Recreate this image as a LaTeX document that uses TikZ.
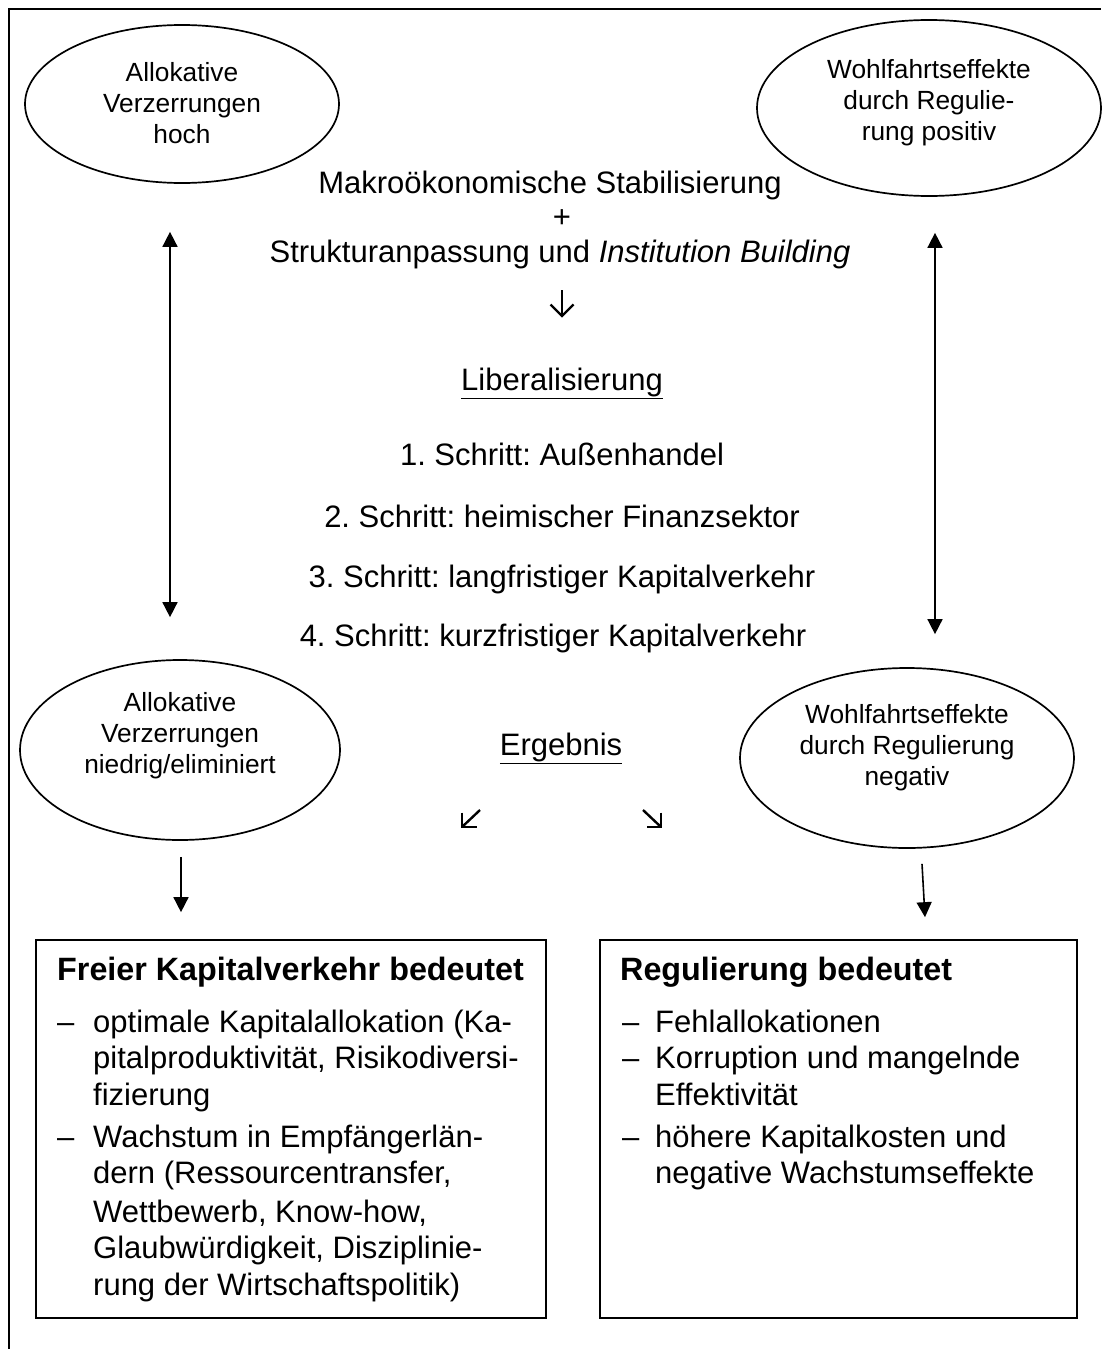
\documentclass[tikz,border=0pt]{standalone}
\usepackage{fontspec}
\setmainfont{Liberation Sans}
\usetikzlibrary{shapes.geometric,arrows.meta}
\begin{document}
\frenchspacing
\begin{tikzpicture}[x=1pt,y=-1pt,
  ell/.style={ellipse,draw,line width=1.7pt,inner sep=0pt},
  etext/.style={align=center,font=\fontsize{26.3}{31}\selectfont},
  ctext/.style={anchor=base,font=\fontsize{31}{36}\selectfont},
  btext/.style={anchor=base west,font=\fontsize{31}{36}\selectfont,inner sep=0pt},
  bhead/.style={anchor=base west,font=\bfseries\fontsize{32.3}{36}\selectfont,inner sep=0pt},
  boxstyle/.style={draw,line width=1.7pt,inner sep=0pt},
  glyph/.style={line width=2.4pt,line cap=butt,line join=miter},
  arr/.style={-{Triangle[length=15pt,width=15pt]},line width=1.6pt},
  dbl/.style={{Triangle[length=15pt,width=15pt]}-{Triangle[length=15pt,width=15pt]},line width=1.6pt}]

\useasboundingbox (0,0) rectangle (1101,1349);
\fill[white] (0,0) rectangle (1101,1349);
\draw[line width=2.6pt] (9,1349) -- (9,9) -- (1101,9);

% ellipses
\node[ell,minimum width=314pt,minimum height=158pt] (tl) at (182,104) {};
\node[ell,minimum width=344pt,minimum height=176pt] (tr) at (929,108) {};
\node[ell,minimum width=320pt,minimum height=180pt] (bl) at (180,750) {};
\node[ell,minimum width=334pt,minimum height=180pt] (br) at (907,758) {};

\node[etext] (tlt) at ([yshift=1pt]tl.center) {Allokative\\Verzerrungen\\hoch};
\node[etext] (trt) at ([yshift=5pt]tr.center) {Wohlfahrtseffekte\\durch Regulie-\\rung positiv};
\node[etext] (blt) at ([yshift=14pt]bl.center) {Allokative\\Verzerrungen\\niedrig/eliminiert};
\node[etext] (brt) at ([yshift=10pt]br.center) {Wohlfahrtseffekte\\durch Regulierung\\negativ};

% center texts
\node[ctext] (makro) at (550,193) {Makroökonomische Stabilisierung};
\node[ctext] (plus) at (562,227) {+};
\node[ctext] (struk) at (560,262) {Strukturanpassung und \textit{Institution Building}};
\node[ctext] (lib) at (562,390) {\underline{Liberalisierung}};
\node[ctext] (s1) at (562,465) {1. Schritt: Außenhandel};
\node[ctext] (s2) at (562,527) {2. Schritt: heimischer Finanzsektor};
\node[ctext] (s3) at (562,587) {3. Schritt: langfristiger Kapitalverkehr};
\node[ctext] (s4) at (553,646) {4. Schritt: kurzfristiger Kapitalverkehr};
\node[ctext] (erg) at (561,755) {\underline{Ergebnis}};

% arrow symbols
\coordinate (dn) at (562,316);
\draw[glyph] ([yshift=26pt]dn) -- (dn);
\draw[glyph] ([xshift=-11.5pt,yshift=11.5pt]dn) -- (dn) -- ([xshift=11.5pt,yshift=11.5pt]dn);
\coordinate (sw) at (462,827);
\draw[glyph] (sw) -- ([xshift=18pt,yshift=17pt]sw);
\draw[glyph] ([yshift=14.5pt]sw) -- (sw) -- ([xshift=14.5pt]sw);
\coordinate (se) at (661,827);
\draw[glyph] (se) -- ([xshift=-18pt,yshift=17pt]se);
\draw[glyph] ([yshift=14.5pt]se) -- (se) -- ([xshift=-14.5pt]se);

% connectors
\draw[dbl] ([xshift=-12pt,yshift=-48pt]tl.south) -- ([xshift=-10pt,yshift=42pt]bl.north);
\draw[dbl] ([xshift=6pt,yshift=-36pt]tr.south) -- ([xshift=28pt,yshift=33pt]br.north);

% boxes
\node[boxstyle,minimum width=510pt,minimum height=378pt] (lbox) at (291,1129) {};
\node[boxstyle,minimum width=477pt,minimum height=378pt] (rbox) at (838.5,1129) {};

\draw[arr] ([xshift=1pt,yshift=-16pt]bl.south) -- ([xshift=-110pt,yshift=27pt]lbox.north);
\draw[arr] ([xshift=15pt,yshift=-15pt]br.south) -- ([xshift=86.5pt,yshift=22pt]rbox.north);

% left box text
\node[bhead] (lh) at (57,980) {Freier Kapitalverkehr bedeutet};
\node[btext] (ld1) at (57,1032) {–};
\node[btext] (l1) at (93,1032) {optimale Kapitalallokation (Ka-};
\node[btext] (l2) at (93,1068) {pitalproduktivität, Risikodiversi-};
\node[btext] (l3) at (93,1105) {fizierung};
\node[btext] (ld2) at (57,1147) {–};
\node[btext] (l4) at (93,1147) {Wachstum in Empfängerlän-};
\node[btext] (l5) at (93,1183) {dern (Ressourcentransfer,};
\node[btext] (l6) at (93,1222) {Wettbewerb, Know-how,};
\node[btext] (l7) at (93,1258) {Glaubwürdigkeit, Disziplinie-};
\node[btext] (l8) at (93,1295) {rung der Wirtschaftspolitik)};

% right box text
\node[bhead] (rh) at (620,980) {Regulierung bedeutet};
\node[btext] (rd1) at (622,1032) {–};
\node[btext] (r1) at (655,1032) {Fehlallokationen};
\node[btext] (rd2) at (622,1068) {–};
\node[btext] (r2) at (655,1068) {Korruption und mangelnde};
\node[btext] (r3) at (655,1105) {Effektivität};
\node[btext] (rd3) at (622,1147) {–};
\node[btext] (r4) at (655,1147) {höhere Kapitalkosten und};
\node[btext] (r5) at (655,1183) {negative Wachstumseffekte};
\end{tikzpicture}
\end{document}
